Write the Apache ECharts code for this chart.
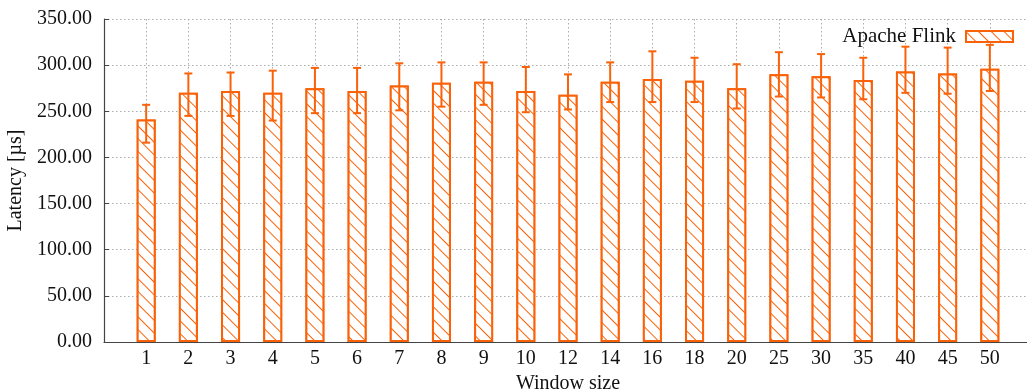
<!DOCTYPE html>
<html>
<head>
<meta charset="utf-8">
<script src="https://cdn.jsdelivr.net/npm/echarts@6/dist/echarts.min.js"></script>
<style>
  html, body { margin: 0; padding: 0; background: #fff; }
  #main { width: 1027px; height: 392px; }
</style>
</head>
<body>
<div id="main"></div>
<script>
// datos
var windows = ['1', '2', '3', '4', '5', '6', '7', '8', '9', '10', '12', '14', '16', '18', '20', '25', '30', '35', '40', '45', '50'];
var latency = [241, 270, 272, 270, 275, 272, 278, 281, 282, 272, 268, 282, 285, 283, 275, 290, 288, 284, 293, 291, 296];
var errLow  = [216, 245, 245, 240, 248, 248, 251, 255, 257, 249, 252, 260, 260, 260, 253, 266, 265, 263, 270, 269, 272];
var errHigh = [257, 291, 292, 294, 297, 297, 302, 303, 303, 298, 290, 303, 315, 308, 301, 314, 312, 308, 320, 319, 322];
var yTicks = [0, 50, 100, 150, 200, 250, 300, 350];

var orange = '#fa6209';
var serif = 'Liberation Serif';
var fs = 20;

var barData = latency.map(function (v, i) { return [i, v]; });
var errData = latency.map(function (v, i) { return [i, errLow[i], errHigh[i]]; });

var grafico = echarts.init(document.getElementById('main'));

var option = {
    animation: false,
    textStyle: { fontFamily: serif },
    grid: {
        left: 104,
        top: 19,
        width: 928,
        height: 323,
        outerBoundsMode: 'none',
        containLabel: false
    },
    legend: {
        right: 8,
        top: 21,
        align: 'right',
        itemWidth: 47,
        itemHeight: 11,
        icon: 'rect',
        textStyle: { fontFamily: serif, fontSize: fs + 1, color: '#111', padding: [0, 5, 0, 0] },
        data: ['Apache Flink']
    },
    xAxis: {
        type: 'value',
        min: -1,
        max: 21,
        interval: 1,
        name: 'Window size',
        nameLocation: 'middle',
        nameGap: 29,
        nameTextStyle: { fontFamily: serif, fontSize: fs, color: '#111' },
        axisLine: { lineStyle: { color: '#444', width: 1.2 } },
        axisTick: { show: false },
        axisLabel: {
            fontFamily: serif,
            fontSize: fs,
            color: '#111',
            margin: 7,
            formatter: function (v) {
                return windows[v] !== undefined ? windows[v] : '';
            }
        },
        splitLine: {
            show: true,
            lineStyle: { color: '#aaa', type: [1.5, 2.5], width: 1 }
        }
    },
    yAxis: {
        type: 'value',
        min: yTicks[0],
        max: yTicks[yTicks.length - 1],
        interval: 50,
        name: 'Latency [µs]',
        nameLocation: 'middle',
        nameGap: 72,
        nameTextStyle: { fontFamily: serif, fontSize: fs, color: '#111' },
        axisLine: { show: true, onZero: false, lineStyle: { color: '#444', width: 1.2 } },
        axisTick: { show: true, inside: true, length: 5, lineStyle: { color: '#444' } },
        axisLabel: {
            fontFamily: serif,
            fontSize: fs,
            color: '#111',
            margin: 12,
            formatter: function (v) { return v.toFixed(2); }
        },
        splitLine: {
            show: true,
            lineStyle: { color: '#aaa', type: [1.5, 2.5], width: 1 }
        }
    },
    series: [{
        name: 'Apache Flink',
        type: 'bar',
        barWidth: 19,
        data: barData,
        itemStyle: {
            color: '#fff',
            borderColor: orange,
            borderWidth: 2,
            decal: {
                symbol: 'rect',
                symbolSize: 1,
                color: orange,
                backgroundColor: '#fff',
                dashArrayX: [1, 0],
                dashArrayY: [1, 7.5],
                rotation: Math.PI / 4
            }
        }
    }, {
        name: 'error',
        type: 'custom',
        data: errData,
        z: 5,
        renderItem: function (params, api) {
            var lo = api.coord([api.value(0), api.value(1)]);
            var hi = api.coord([api.value(0), api.value(2)]);
            var half = 4;
            var st = { stroke: orange, lineWidth: 2 };
            return {
                type: 'group',
                children: [
                    { type: 'line', shape: { x1: lo[0], y1: lo[1], x2: hi[0], y2: hi[1] }, style: st },
                    { type: 'line', shape: { x1: lo[0] - half, y1: lo[1], x2: lo[0] + half, y2: lo[1] }, style: st },
                    { type: 'line', shape: { x1: hi[0] - half, y1: hi[1], x2: hi[0] + half, y2: hi[1] }, style: st }
                ]
            };
        }
    }]
};

grafico.setOption(option);
</script>
</body>
</html>
